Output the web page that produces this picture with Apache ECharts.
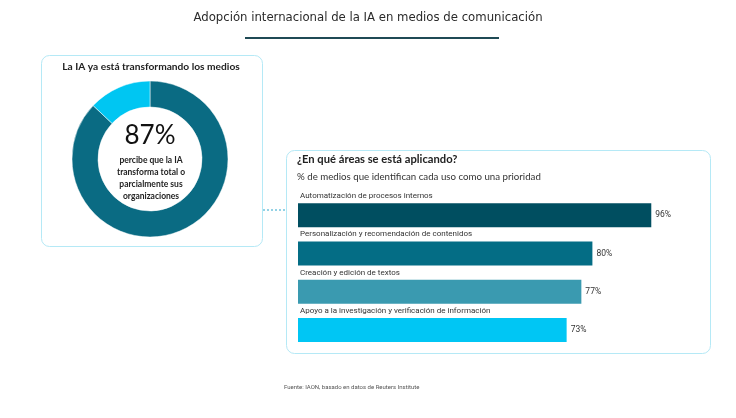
<!DOCTYPE html>
<html>
<head>
<meta charset="utf-8">
<script src="https://cdn.jsdelivr.net/npm/echarts@6/dist/echarts.min.js"></script>
<style>
  html, body { margin: 0; padding: 0; background: #fff; }
  #chart { width: 736px; height: 418px; }
</style>
</head>
<body>
<div id="chart"></div>
<script>
// datos
var donutLabels = ['Transforma', 'Resto'];
var donutValues = [87, 13];
var areas = [
    'Automatización de procesos internos',
    'Personalización y recomendación de contenidos',
    'Creación y edición de textos',
    'Apoyo a la investigación y verificación de información'
];
var areaValues = [96, 80, 77, 73];
var barColors = ['#004e60', '#046d85', '#3a9ab0', '#00c6f4'];

var chart = echarts.init(document.getElementById('chart'));

var option = {
    animation: false,
    backgroundColor: '#fff',
    graphic: [
        // titulo principal
        { type: 'text', left: 'center', top: 11,
          style: { text: 'Adopción internacional de la IA en medios de comunicación',
                   font: '13px "Liberation Sans Narrow", "DejaVu Sans Condensed", sans-serif', fill: '#2b2b2b' } },
        { type: 'rect', shape: { x: 245, y: 37, width: 254, height: 2 }, style: { fill: '#1f4a55' } },
        // caja izquierda
        { type: 'rect', shape: { x: 41.5, y: 55.5, width: 221, height: 191, r: 8 },
          style: { fill: 'none', stroke: '#b5e9f6', lineWidth: 1 } },
        { type: 'text', x: 151, y: 62,
          style: { text: 'La IA ya está transformando los medios', align: 'center',
                   font: 'bold 10.2px Lato, sans-serif', fill: '#222' } },
        { type: 'text', x: 150, y: 123,
          style: { text: '87%', align: 'center',
                   font: '26px Lato, sans-serif', fill: '#111' } },
        { type: 'text', x: 151, y: 154,
          style: { text: 'percibe que la IA\ntransforma total o\nparcialmente sus\norganizaciones', align: 'center',
                   font: 'bold 8.5px Lato, sans-serif', lineHeight: 12, fill: '#222' } },
        // conector
        { type: 'line', shape: { x1: 263, y1: 210, x2: 286, y2: 210 },
          style: { stroke: '#2aa6cc', lineWidth: 1, lineDash: [2, 2] } },
        // caja derecha
        { type: 'rect', shape: { x: 286.5, y: 150.5, width: 424, height: 203, r: 8 },
          style: { fill: 'none', stroke: '#b5e9f6', lineWidth: 1 } },
        { type: 'text', x: 297, y: 154,
          style: { text: '¿En qué áreas se está aplicando?',
                   font: 'bold 11.2px Lato, sans-serif', fill: '#222' } },
        { type: 'text', x: 297, y: 172,
          style: { text: '% de medios que identifican cada uso como una prioridad',
                   font: '9.7px Lato, sans-serif', fill: '#333' } },
        // fuente
        { type: 'text', x: 284, y: 384,
          style: { text: 'Fuente: IAON, basado en datos de Reuters Institute',
                   font: '6px Roboto, sans-serif', fill: '#555' } }
    ],
    grid: { left: 298, top: 196, width: 368, height: 153 },
    xAxis: { type: 'value', min: 0, max: 100, show: false },
    yAxis: { type: 'category', data: areas, inverse: true, show: false },
    series: [
        {
            type: 'pie',
            center: [150, 159],
            radius: [52, 78],
            startAngle: 90,
            clockwise: true,
            silent: true,
            label: { show: false },
            labelLine: { show: false },
            itemStyle: { borderColor: '#fff', borderWidth: 0.5 },
            data: donutLabels.map(function (n, i) {
                return { name: n, value: donutValues[i],
                         itemStyle: { color: i === 0 ? '#0a6b83' : '#00c6f2' } };
            })
        },
        {
            type: 'bar',
            barWidth: 24,
            data: areaValues.map(function (v, i) {
                return { value: v, itemStyle: { color: barColors[i] } };
            }),
            label: {
                show: true, position: 'right', distance: 4,
                formatter: '{c}%', fontSize: 8.5, color: '#333', fontFamily: 'Roboto'
            }
        },
        {
            // nombres de categoria sobre cada barra
            type: 'bar',
            barWidth: 24,
            barGap: '-100%',
            silent: true,
            itemStyle: { color: 'rgba(0,0,0,0)' },
            data: areaValues,
            label: {
                show: true, position: [2, -11], formatter: '{b}',
                fontSize: 8, color: '#333', fontFamily: 'Roboto'
            }
        }
    ]
};

chart.setOption(option);
window.onresize = chart.resize;
</script>
</body>
</html>
